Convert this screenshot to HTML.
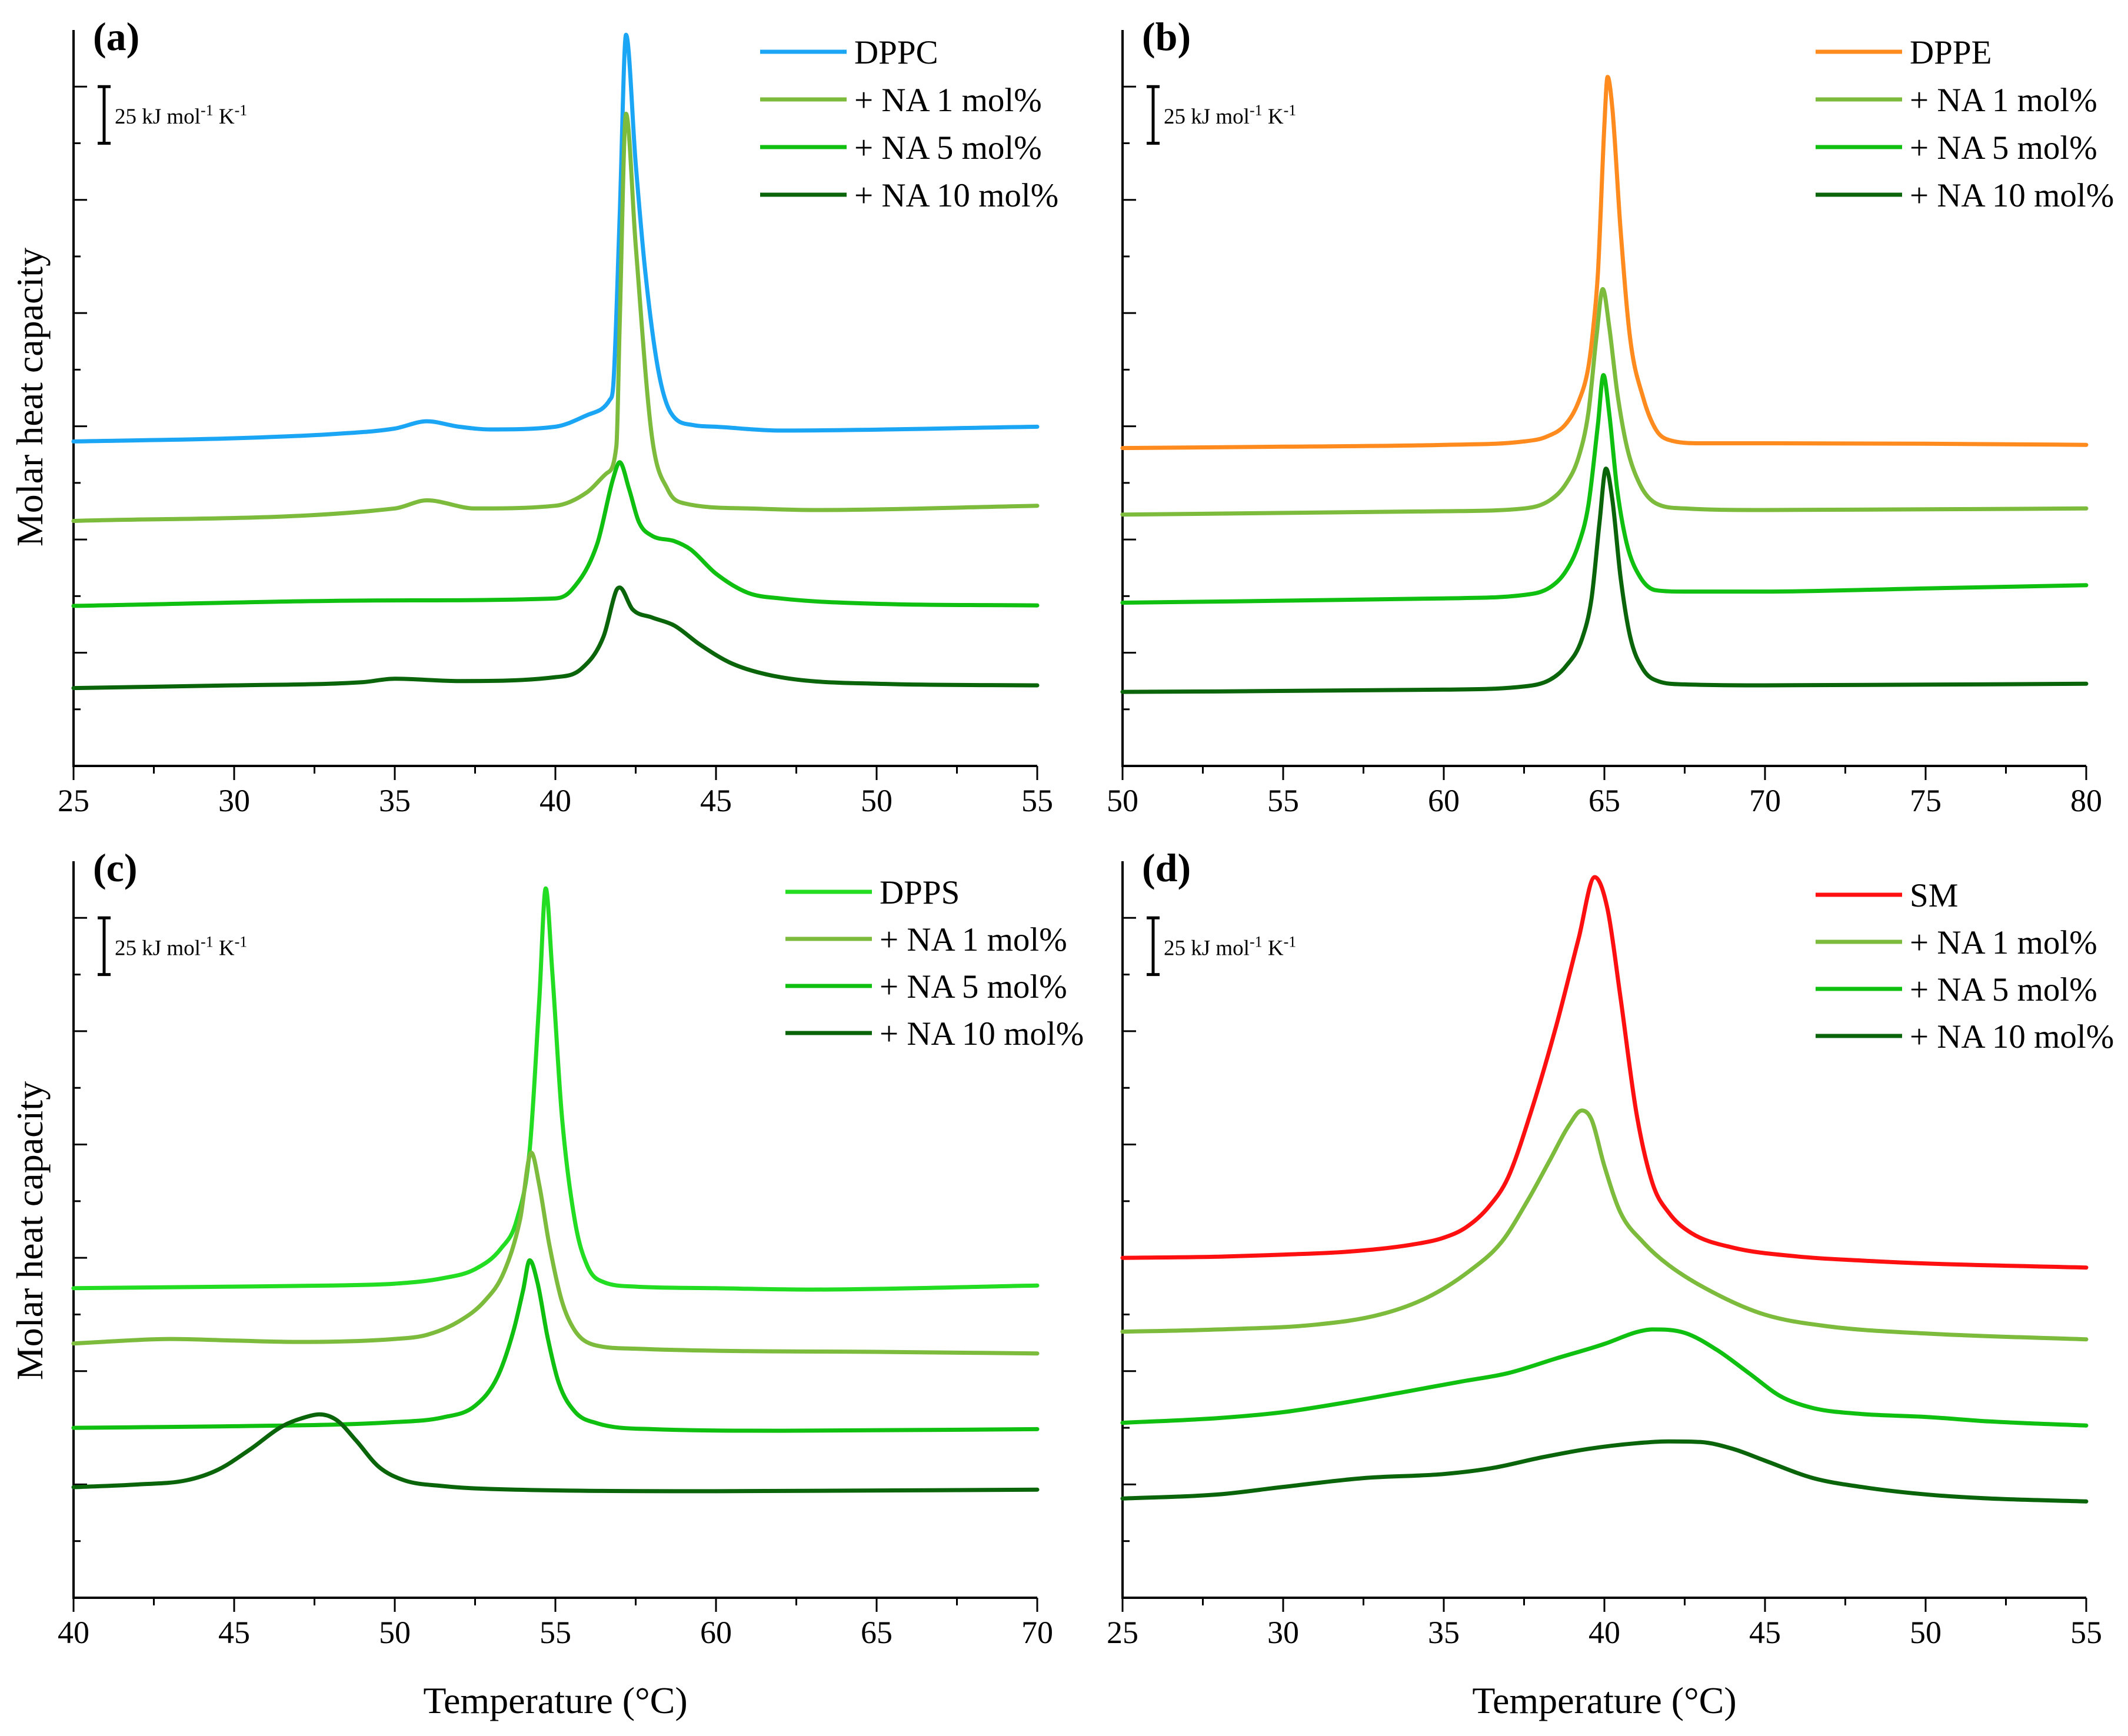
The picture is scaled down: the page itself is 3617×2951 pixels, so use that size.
<!DOCTYPE html>
<html><head><meta charset="utf-8"><style>
html,body{margin:0;padding:0;background:#fff;}
svg{display:block;font-family:"Liberation Serif",serif;}
text{font-family:"Liberation Serif",serif;fill:#000;}
</style></head><body>
<svg id="fig" width="3617" height="2951" viewBox="0 0 3617 2951" font-family="Liberation Serif, serif" xmlns="http://www.w3.org/2000/svg"></svg>
<script>
// ---------- Data (temperature in °C, heat capacity in kJ mol-1 K-1 offset units) ----------
const aDPPC_T=[25,30,33,35,36,37,38,40,41,41.7,41.8,42.0,42.2,42.5,42.8,43.2,43.6,44.3,45,47,55];
const aDPPC_C=[143.3,144.7,146.5,149,152.2,149.8,148.6,149.8,155,161.8,167.8,242,322.9,266,218,175,155.8,150.5,149.8,148.1,149.8];
const aNA1_T=[25,35,36,37.5,40,41,41.6,41.9,42.0,42.2,42.5,43,43.5,44,46,48,55];
const aNA1_C=[108.2,113.7,117.3,113.7,114.9,121,129.3,141.4,194,288,230,146,122,116,113.7,113,114.9];
const aNA5_T=[25,35,40,40.5,41.3,41.8,42.0,42.3,42.6,43,43.7,44.2,45,46,47,50,55];
const aNA5_C=[70.7,73.1,74,77.6,98,127,134.1,122,107.7,101.7,99.3,95.7,84.9,76.4,74,71.6,70.9];
const aNA10_T=[25,30,34,35,37,40,40.8,41.5,41.9,42.0,42.4,43,43.7,44.5,45.5,47,50,55];
const aNA10_C=[34.4,35.6,37,38.5,37.5,39.2,42.8,57.2,77.6,78.8,69.2,65.6,62,53.6,45.2,39.2,36.3,35.6];
const bDPPE_T=[50,55,60,62.5,63.2,63.8,64.2,64.5,64.65,64.8,65.0,65.1,65.25,65.5,65.8,66.2,66.6,67,68,70,75,80];
const bDPPE_C=[140.4,141,141.8,143.3,145.4,151,161,176,193,218,283,304.3,290,237.5,189,163,148.6,144,142.5,142.5,142.3,141.8];
const bNA1_T=[50,60,62.5,63.3,63.8,64.2,64.5,64.75,64.95,65.15,65.4,65.7,66.1,66.6,67.5,70,80];
const bNA1_C=[111,112.5,113.7,117.3,124.5,136.5,155.8,189,210.6,194,165,141,124.5,116,113.7,113,113.7];
const bNA5_T=[50,60,62.5,63.3,63.8,64.2,64.5,64.8,64.97,65.15,65.4,65.7,66.1,66.6,67.5,70,75,80];
const bNA5_C=[72.1,74,75.5,78.8,86,98,115,151,172.6,155.8,122,98,83.7,77.6,77,77,78.4,79.8];
const bNA10_T=[50,60,62.5,63.3,63.8,64.3,64.6,64.85,65.05,65.25,65.5,65.8,66.2,66.7,67.5,70,80];
const bNA10_C=[32.7,33.7,35.1,38,44,56,74,107.7,131.3,117.3,83.7,57.2,42.8,37.3,36,35.6,36.3];
const cDPPS_T=[40,45,48,50,51.5,52.5,53.3,53.8,54.2,54.5,54.7,54.9,55.2,55.6,56,56.5,57.5,60,63,70];
const cDPPS_C=[136.6,137.3,137.8,138.6,141,145,154,166.8,197.6,264,313,277,213,166.8,146.3,139.3,137.3,136.6,136,137.8];
const cNA1_T=[40,41,43,45,47,50,51,52,52.8,53.4,53.9,54.25,54.5,54.8,55.2,55.6,56.2,57.5,60,65,70];
const cNA1_C=[112.2,113,114.2,113.5,112.9,114.2,116,122,131,143.7,166.8,196.4,182,156.6,131,118,111.6,109.9,109,108.5,107.8];
const cNA5_T=[40,45,50,51.5,52.5,53.2,53.7,54.0,54.2,54.45,54.75,55.1,55.6,56.3,58,62,70];
const cNA5_C=[75,75.7,77.5,79.6,84.7,97.5,118,136,148.9,138.6,115.5,95,82.2,77,74.4,73.7,74.4];
const cNA10_T=[40,42,43.5,44.5,45.5,46.5,47.3,47.65,48.2,48.8,49.5,50.3,51.5,53,60,70];
const cNA10_C=[48.8,50,51.8,56.5,65.5,75.7,80,80.9,78.3,69.3,57.8,51.8,49.3,48,47,47.7];
const dSM_T=[25,28,30,32,34,35,35.7,36.4,37,37.7,38.5,39.2,39.7,40.1,40.5,41,41.5,42,42.7,44,46,48,50,55];
const dSM_C=[150,150.5,151.4,152.7,155.8,158.9,163.5,172.5,185.4,213.7,252.3,291,318,303.7,265,213.7,182.8,170,161,154.5,150.6,148.8,147.5,145.7];
const dNA1_T=[25,28,31,33,34.5,35.8,36.8,37.6,38.3,38.9,39.3,39.6,40,40.5,41.2,42,43.5,45,47,50,55];
const dNA1_C=[117.4,118.4,120.5,124.9,132.6,144.2,157,175,193,208.5,215,211,190.5,170,157,146.8,133.9,124.9,119.7,116.6,114];
const dNA5_T=[25,28,30,32,34,35.5,37,38.5,40,41,41.5,42.5,43.5,44.5,45.5,46.5,48,50,52,55];
const dNA5_C=[77.2,79.3,81.9,86.3,91.4,95.3,99.1,105.6,112,117.2,118.4,116.9,109.4,99.1,88.8,83.7,81.1,79.8,77.8,76];
const dNA10_T=[25,28,30,32.5,35,36.5,38,39.5,41,42,43,44,45,46.5,48,50,52,55];
const dNA10_C=[43.8,45.6,48.9,52.8,54.6,57.2,61.8,65.7,68.2,69,68.7,65.7,60.5,52.8,48.9,45.6,43.8,42.5];

const xTicksA=[25,30,35,40,45,50,55];
const xTicksB=[50,55,60,65,70,75,80];
const xTicksC=[40,45,50,55,60,65,70];
const xTicksD=[25,30,35,40,45,50,55];
const legendA=["DPPC","+ NA 1 mol%","+ NA 5 mol%","+ NA 10 mol%"];
const legendB=["DPPE","+ NA 1 mol%","+ NA 5 mol%","+ NA 10 mol%"];
const legendC=["DPPS","+ NA 1 mol%","+ NA 5 mol%","+ NA 10 mol%"];
const legendD=["SM","+ NA 1 mol%","+ NA 5 mol%","+ NA 10 mol%"];

const NS="http://www.w3.org/2000/svg";
const FF='Liberation Serif, serif';
const svg=document.getElementById('fig');
function mk(tag,attrs,parent){const e=document.createElementNS(NS,tag);for(const k in attrs)e.setAttribute(k,attrs[k]);if(tag==='text')e.setAttribute('font-family',FF);(parent||svg).appendChild(e);return e;}

function monoPath(px,py){
  const n=px.length;const d=[],m=new Array(n).fill(0);
  for(let i=0;i<n-1;i++)d.push((py[i+1]-py[i])/(px[i+1]-px[i]));
  m[0]=d[0];m[n-1]=d[n-2];
  for(let i=1;i<n-1;i++){ if(d[i-1]*d[i]<=0)m[i]=0; else m[i]=(d[i-1]+d[i])/2; }
  for(let i=0;i<n-1;i++){ if(d[i]===0){m[i]=0;m[i+1]=0;continue;} const a=m[i]/d[i],b=m[i+1]/d[i]; const s=a*a+b*b; if(s>9){const t=3/Math.sqrt(s);m[i]=t*a*d[i];m[i+1]=t*b*d[i];} }
  let p=`M${px[0].toFixed(1)},${py[0].toFixed(1)}`;
  for(let i=0;i<n-1;i++){const h=(px[i+1]-px[i])/3;
    p+=` C${(px[i]+h).toFixed(1)},${(py[i]+m[i]*h).toFixed(1)} ${(px[i+1]-h).toFixed(1)},${(py[i+1]-m[i+1]*h).toFixed(1)} ${px[i+1].toFixed(1)},${py[i+1].toFixed(1)}`;}
  return p;
}

function panel(cfg){
  const g=mk('g',{});
  
  
  const X=v=>cfg.x0+(v-cfg.xmin)/(cfg.xmax-cfg.xmin)*(cfg.x1-cfg.x0);
  const Y=v=>cfg.yb-(v/325)*(cfg.yb-cfg.yt);
  const ax=mk('path',{d:`M${cfg.x0},${cfg.yt} L${cfg.x0},${cfg.yb} L${cfg.x1},${cfg.yb}`,fill:'none',stroke:'#000','stroke-width':4},g);
  
  
  for(let k=1;k<=12;k++){const y=Y(k*25);const len=(k%2===0)?23:12;
    const t=mk('line',{x1:cfg.x0,x2:cfg.x0+len,y1:y,y2:y,stroke:'#000','stroke-width':3},g);
    
    }
  const ticks=cfg.xticks;
  for(let i=0;i<ticks.length;i++){const x=X(ticks[i]);
    const t=mk('line',{x1:x,x2:x,y1:cfg.yb,y2:cfg.yb+24,stroke:'#000','stroke-width':3},g);
    
    
    const lb=mk('text',{x:x,y:cfg.yb+77,'font-size':54,'text-anchor':'middle'},g);lb.textContent=ticks[i];
    
    
    if(i<ticks.length-1){const xm=X((ticks[i]+ticks[i+1])/2);
      const t2=mk('line',{x1:xm,x2:xm,y1:cfg.yb,y2:cfg.yb+13,stroke:'#000','stroke-width':3},g);
      
      }
  }
  const pl=mk('text',{x:cfg.x0+33,y:cfg.yt+34,'font-size':68,'font-weight':'bold'},g);pl.textContent='('+cfg.id+')';
  
  
  const sx=cfg.x0+52,sy1=Y(300),sy2=Y(275);
  const sb=mk('path',{d:`M${sx-11},${sy1} L${sx+11},${sy1} M${sx},${sy1} L${sx},${sy2} M${sx-11},${sy2} L${sx+11},${sy2}`,stroke:'#000','stroke-width':5,fill:'none'},g);
  
  
  const st=mk('text',{x:sx+18,y:sy1+63,'font-size':37},g);
  st.innerHTML='25 kJ mol<tspan dy="-14" font-size="26">-1</tspan><tspan dy="14"> K</tspan><tspan dy="-14" font-size="26">-1</tspan>';
  
  
  cfg.series.forEach((s,i)=>{
    const px=s.T.map(X),py=s.C.map(Y);
    const p=mk('path',{d:monoPath(px,py),fill:'none',stroke:s.color,'stroke-width':7,'stroke-linejoin':'round','stroke-linecap':'round'},g);
    
    
    const ly=cfg.legY+i*cfg.legDy;
    const ll=mk('line',{x1:cfg.legX,x2:cfg.legX+147,y1:ly,y2:ly,stroke:s.color,'stroke-width':7},g);
    
    
    const lt=mk('text',{x:cfg.legX+160,y:ly+20,'font-size':57},g);lt.textContent=cfg.legend[i];
    
    
  });
  if(cfg.ytitle){
    const yt=mk('text',{x:0,y:0,'font-size':64,'text-anchor':'middle',transform:`translate(72,${cfg.ytc}) rotate(-90)`},g);yt.textContent='Molar heat capacity';
    
    
  }
  if(cfg.xtitle){
    const xt=mk('text',{x:(cfg.x0+cfg.x1)/2,y:2912,'font-size':64,'text-anchor':'middle'},g);xt.textContent='Temperature (°C)';
    
    
  }
}
const C_NA1='#7cbb3c',C_NA5='#10c010',C_NA10='#0a640a';
panel({id:'a',x0:125,x1:1763,yt:51,yb:1302,xmin:25,xmax:55,xticks:xTicksA,legend:legendA,legX:1292,legY:88,legDy:81,ytitle:true,ytc:675,
  series:[{key:'dppc',T:aDPPC_T,C:aDPPC_C,color:'#1aa6f5'},{key:'na1',T:aNA1_T,C:aNA1_C,color:C_NA1},{key:'na5',T:aNA5_T,C:aNA5_C,color:C_NA5},{key:'na10',T:aNA10_T,C:aNA10_C,color:C_NA10}]});
panel({id:'b',x0:1908,x1:3546,yt:51,yb:1302,xmin:50,xmax:80,xticks:xTicksB,legend:legendB,legX:3086,legY:88,legDy:81,
  series:[{key:'dppe',T:bDPPE_T,C:bDPPE_C,color:'#ff8a1e'},{key:'na1',T:bNA1_T,C:bNA1_C,color:C_NA1},{key:'na5',T:bNA5_T,C:bNA5_C,color:C_NA5},{key:'na10',T:bNA10_T,C:bNA10_C,color:C_NA10}]});
panel({id:'c',x0:125,x1:1763,yt:1464,yb:2716,xmin:40,xmax:70,xticks:xTicksC,legend:legendC,legX:1335,legY:1516,legDy:80,ytitle:true,ytc:2092,xtitle:true,
  series:[{key:'dpps',T:cDPPS_T,C:cDPPS_C,color:'#22dd22'},{key:'na1',T:cNA1_T,C:cNA1_C,color:C_NA1},{key:'na5',T:cNA5_T,C:cNA5_C,color:C_NA5},{key:'na10',T:cNA10_T,C:cNA10_C,color:C_NA10}]});
panel({id:'d',x0:1908,x1:3546,yt:1464,yb:2716,xmin:25,xmax:55,xticks:xTicksD,legend:legendD,legX:3086,legY:1521,legDy:80,xtitle:true,
  series:[{key:'sm',T:dSM_T,C:dSM_C,color:'#ff1010'},{key:'na1',T:dNA1_T,C:dNA1_C,color:C_NA1},{key:'na5',T:dNA5_T,C:dNA5_C,color:C_NA5},{key:'na10',T:dNA10_T,C:dNA10_C,color:C_NA10}]});
</script>
</body></html>
